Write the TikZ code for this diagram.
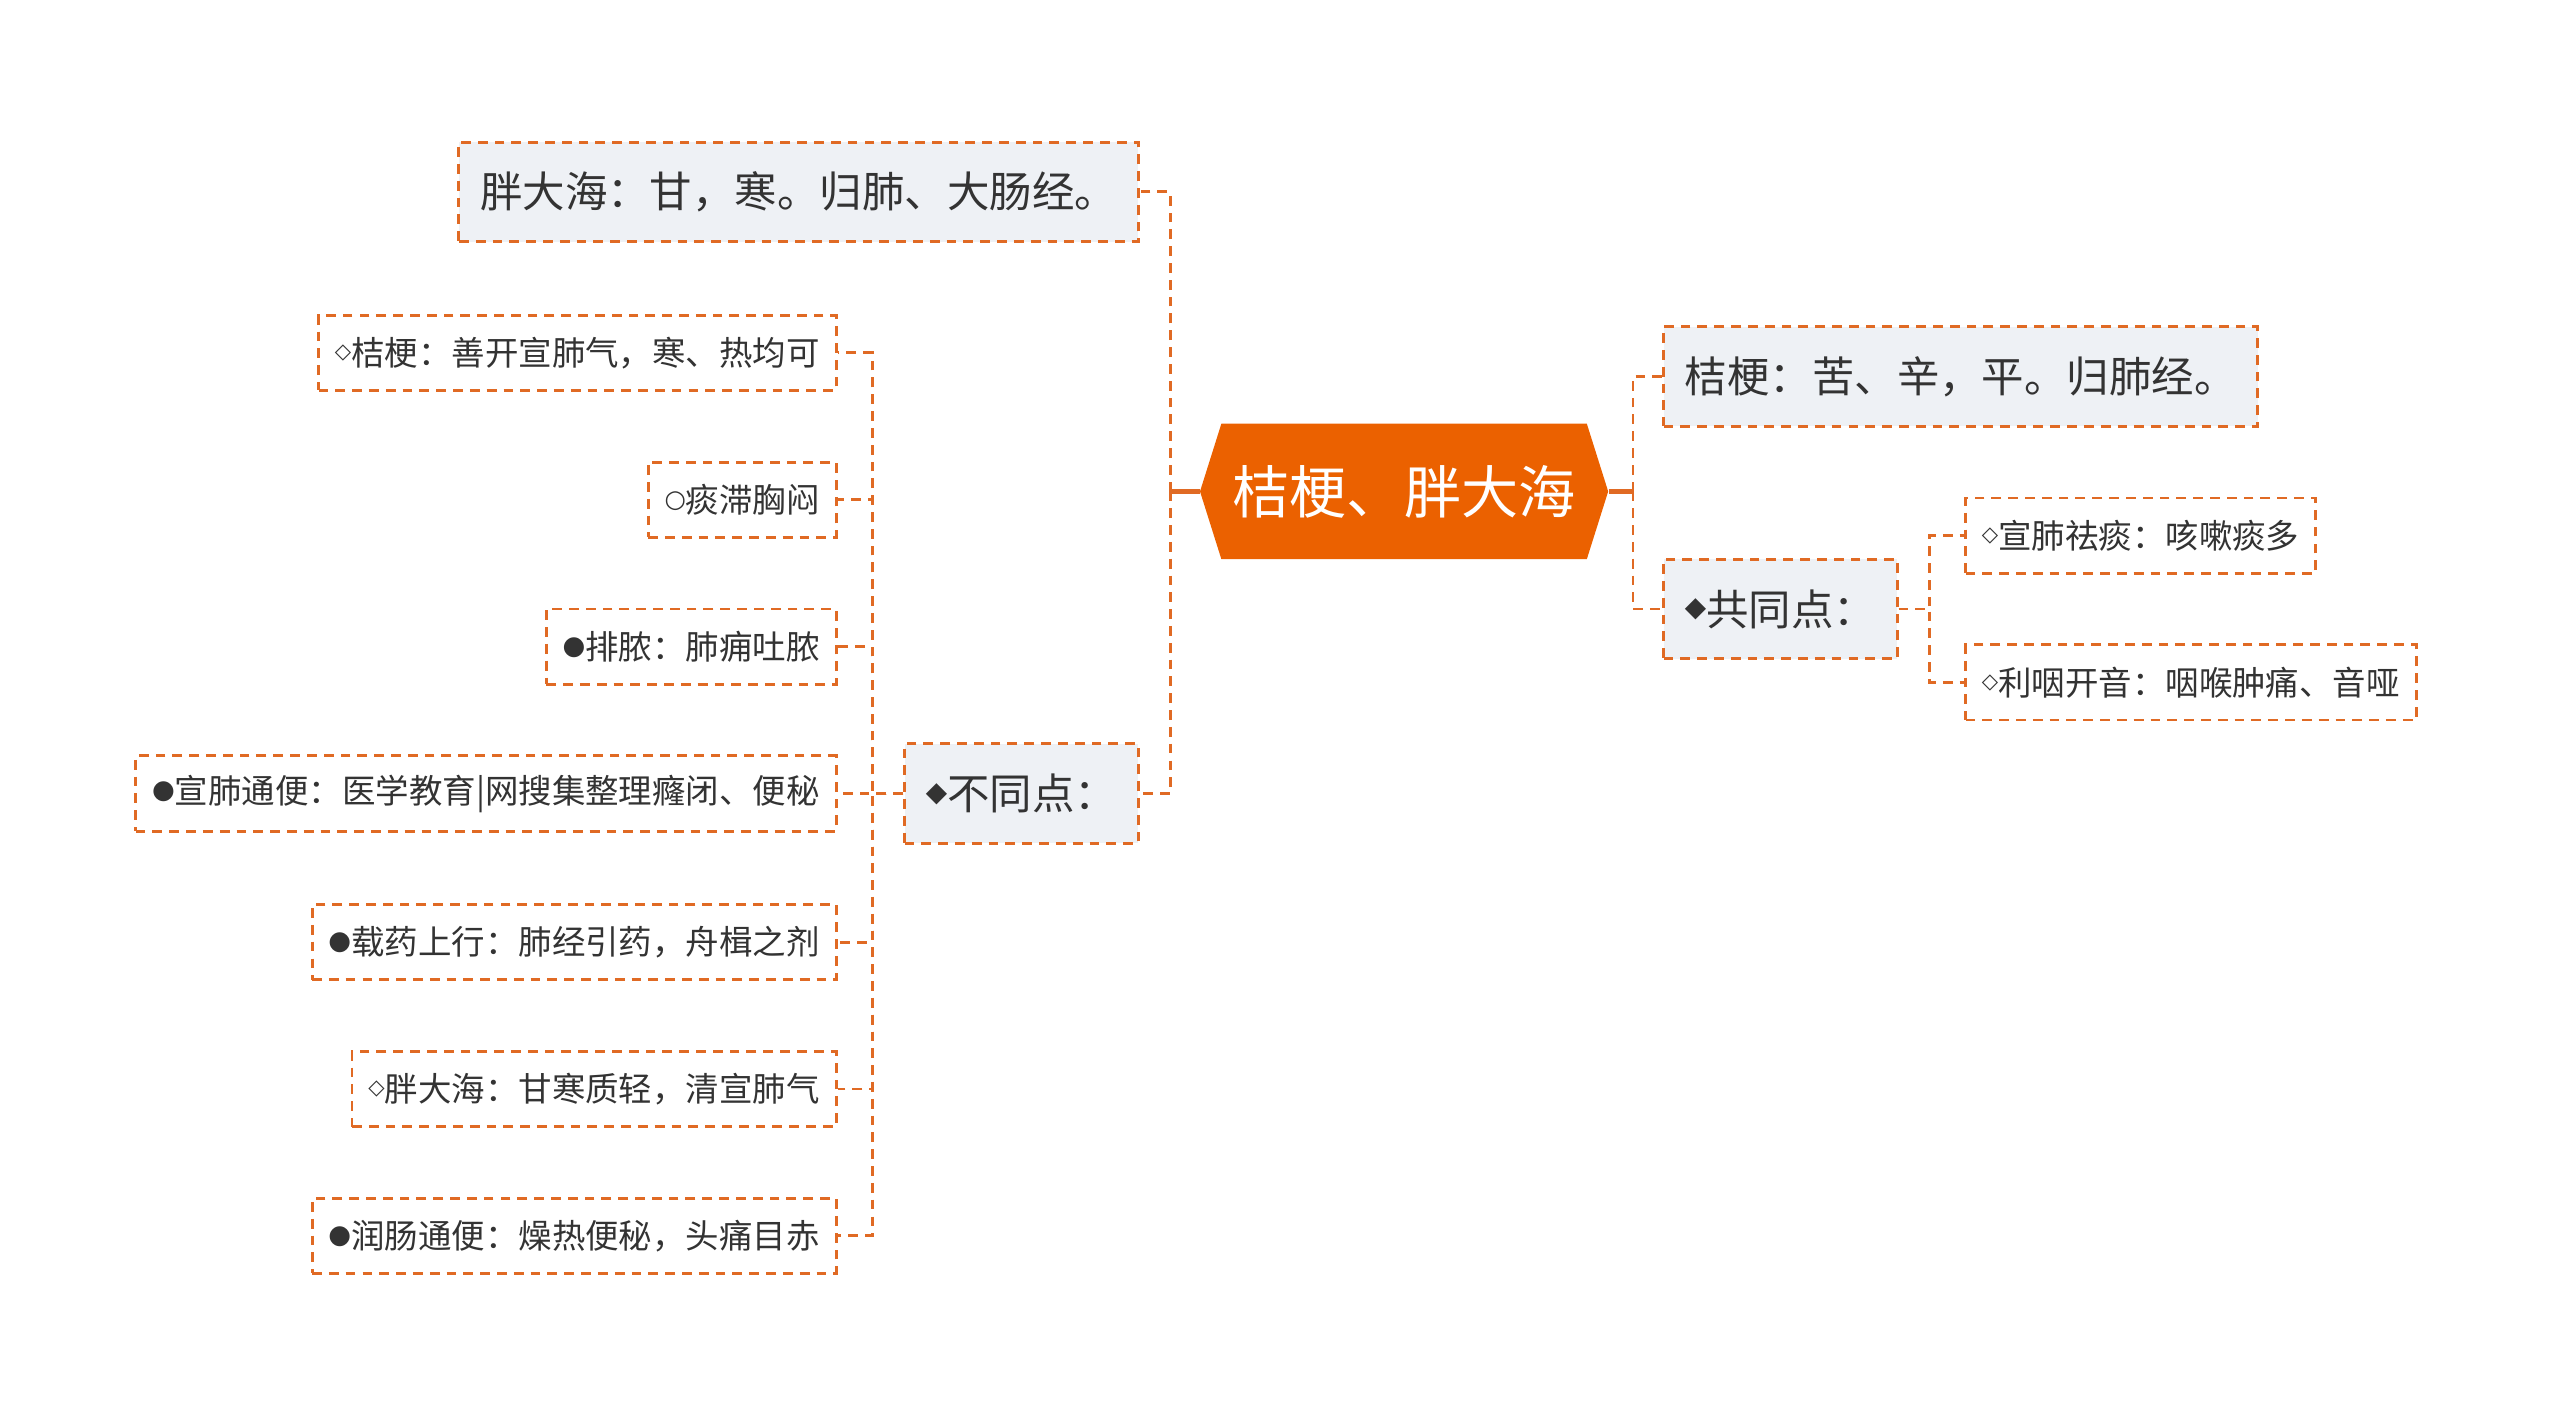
\documentclass[tikz,border=0pt]{standalone}
\usepackage{fontspec}
\setmainfont{Noto Sans CJK SC}
\newfontfamily\symf{DejaVu Sans}
\usetikzlibrary{shapes.symbols}
\definecolor{lineor}{HTML}{E06A24}
\definecolor{rootor}{HTML}{EB6100}
\definecolor{boxgray}{HTML}{EEF1F5}
\definecolor{txt}{HTML}{333333}
\newcommand{\wdia}{\raisebox{4pt}{\symf\fontsize{13}{13}\selectfont ◇}}
\newcommand{\bdot}{\raisebox{3pt}{\symf\fontsize{16}{16}\selectfont ●}}
\newcommand{\wdot}{\raisebox{3pt}{\symf\fontsize{15}{15}\selectfont ○}}
\newcommand{\bdia}{\raisebox{5pt}{\symf\fontsize{17}{17}\selectfont ◆}}
\tikzset{
  topbox/.style={draw=lineor,fill=boxgray,dash pattern=on 6pt off 4.3pt,line width=1.8pt,
    text=txt,font=\fontsize{26}{30}\selectfont,inner xsep=13pt,minimum height=61pt},
  leafbox/.style={draw=lineor,fill=white,dash pattern=on 6pt off 4.3pt,line width=1.8pt,
    text=txt,font=\fontsize{20.5}{24}\selectfont,inner xsep=10pt,minimum height=46pt},
  link/.style={draw=lineor,dash pattern=on 6pt off 4.3pt,line width=1.8pt},
  stub/.style={draw=lineor,line width=2.8pt}
}
\begin{document}
\begin{tikzpicture}[x=1pt,y=-1pt]
\useasboundingbox (0,0) rectangle (1568,868);

\node[signal,signal to=west and east,signal pointer angle=145,fill=rootor,text=white,
  minimum width=250pt,minimum height=83pt,inner xsep=2pt,font=\fontsize{35}{40}\selectfont] (root) at (860,301) {桔梗、胖大海};

\node[topbox,anchor=east] (pang) at (698,117.5) {胖大海：甘，寒。归肺、大肠经。};
\node[topbox,anchor=east] (diff) at (698,486) {\bdia 不同点：};
\node[topbox,anchor=west] (jie) at (1018,230.5) {桔梗：苦、辛，平。归肺经。};
\node[topbox,anchor=west] (same) at (1018,373) {\bdia 共同点：};

\node[leafbox,anchor=east] (d1) at (513,216) {\wdia 桔梗：善开宣肺气，寒、热均可};
\node[leafbox,anchor=east] (d2) at (513,306) {\wdot 痰滞胸闷};
\node[leafbox,anchor=east] (d3) at (513,396) {\bdot 排脓：肺痈吐脓};
\node[leafbox,anchor=east] (d4) at (513,486) {\bdot 宣肺通便：医学教育|网搜集整理癃闭、便秘};
\node[leafbox,anchor=east] (d5) at (513,577) {\bdot 载药上行：肺经引药，舟楫之剂};
\node[leafbox,anchor=east] (d6) at (513,667) {\wdia 胖大海：甘寒质轻，清宣肺气};
\node[leafbox,anchor=east] (d7) at (513,757) {\bdot 润肠通便：燥热便秘，头痛目赤};

\node[leafbox,anchor=west] (s1) at (1203,328) {\wdia 宣肺祛痰：咳嗽痰多};
\node[leafbox,anchor=west] (s2) at (1203,418) {\wdia 利咽开音：咽喉肿痛、音哑};

\draw[stub] (root.west) -- ++(-18,0) coordinate (lt);
\draw[stub] (root.east) -- ++(15,0) coordinate (rt);
\draw[link] (lt) |- (pang.east);
\draw[link] (lt) |- (diff.east);
\draw[link] (rt) |- (jie.west);
\draw[link] (rt) |- (same.west);

\foreach \n in {d1,d2,d3,d4,d5,d6,d7}
  \draw[link] (diff.west) -- ++(-19,0) |- (\n.east);
\foreach \n in {s1,s2}
  \draw[link] (same.east) -- ++(19,0) |- (\n.west);
\end{tikzpicture}
\end{document}
